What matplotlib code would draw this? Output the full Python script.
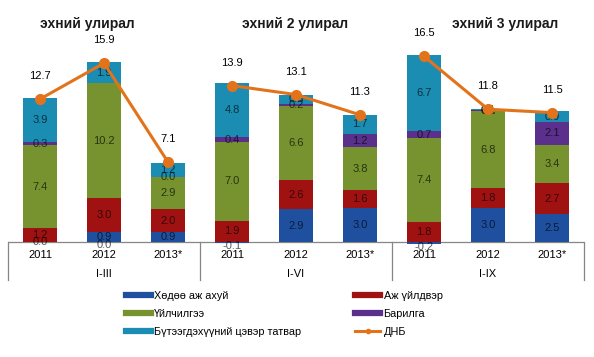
# -*- coding: utf-8 -*-
import matplotlib
matplotlib.use("Agg")
from matplotlib import pyplot as plt
from matplotlib.lines import Line2D
import matplotlib.transforms as mtransforms
import numpy as np

plt.rcParams['font.family'] = ['Liberation Sans', 'DejaVu Sans']

##############################################################################
# Donnees
years = ['2011', '2012', '2013*'] * 3
periods = ['I-III', 'I-VI', 'I-IX']
titles = ['эхний улирал', 'эхний 2 улирал', 'эхний 3 улирал']

agri = [0.0, 0.9, 0.9, -0.1, 2.9, 3.0, -0.2, 3.0, 2.5]
indus = [1.2, 3.0, 2.0, 1.9, 2.6, 1.6, 1.8, 1.8, 2.7]
servi = [7.4, 10.2, 2.9, 7.0, 6.6, 3.8, 7.4, 6.8, 3.4]
constr = [0.3, -0.04, 0.0, 0.4, 0.2, 1.2, 0.7, 0.1, 2.1]
taxes = [3.9, 1.9, 1.2, 4.8, 0.8, 1.7, 6.7, 0.1, 0.9]
gdp = [12.7, 15.9, 7.1, 13.9, 13.1, 11.3, 16.5, 11.8, 11.5]

series = [
    ('Хөдөө аж ахуй', agri, '#1f50a0'),
    ('Аж үйлдвэр', indus, '#a01212'),
    ('Үйлчилгээ', servi, '#77932f'),
    ('Барилга', constr, '#5b2f8c'),
    ('Бүтээгдэхүүний цэвэр татвар', taxes, '#1b8db3'),
]
col_gdp = '#e2731b'

##############################################################################
# Graphique
W, H = 594, 357
fig = plt.figure(figsize=(W / 100, H / 100), dpi=100)
ax = fig.add_axes([8 / W, 1 - 247.6 / H, 576 / W, 247.5 / H])

x = np.arange(len(years))
pos_base = np.zeros(len(x))
neg_base = np.zeros(len(x))
for nom, vals, couleur in series:
    vals = np.array(vals)
    base = np.where(vals >= 0, pos_base, neg_base)
    ax.bar(x, vals, 0.52, bottom=base, color=couleur, linewidth=0, zorder=2)
    for xi, b, v in zip(x, base, vals):
        # les valeurs negatives sont etiquetees sous l'axe
        yl = b + v / 2 if v >= 0 else b + v - 0.25
        ax.text(xi, yl, '%.1f' % (round(v, 1) + 0.0), ha='center', va='center',
                fontsize=8, color='black', alpha=0.65, zorder=3)
    pos_base = np.where(vals >= 0, pos_base + vals, pos_base)
    neg_base = np.where(vals < 0, neg_base + vals, neg_base)

# ДНБ, une ligne par periode
for g in range(3):
    xs = x[3 * g:3 * g + 3]
    ys = gdp[3 * g:3 * g + 3]
    ax.plot(xs, ys, color=col_gdp, lw=2.2, marker='o', ms=7, zorder=4)
    for xi, yi in zip(xs, ys):
        ax.annotate('%.1f' % yi, (xi, yi), xytext=(0, 13), textcoords='offset points',
                    ha='center', va='bottom', fontsize=8, color='black')

ax.set_xlim(-0.5, len(x) - 0.5)
ax.set_ylim(-0.5, 21.5)
ax.axis('off')
ax.axhline(0, color='#868686', lw=0.9, zorder=1)

# axe des categories a deux niveaux
tr = mtransforms.blended_transform_factory(ax.transData, fig.transFigure)
y_top = 1 - 242 / H
y_bot = 1 - 280 / H
for xb in [-0.5, 2.5, 5.5, 8.5]:
    fig.add_artist(Line2D([xb, xb], [y_top, y_bot], transform=tr, color='#868686', lw=0.9))
for xi, an in zip(x, years):
    fig.text(xi, 1 - 255 / H, an, transform=tr, ha='center', va='center', fontsize=8)
for g, per in enumerate(periods):
    fig.text(3 * g + 1, 1 - 274 / H, per, transform=tr, ha='center', va='center', fontsize=8)

for xt, titre in zip([87, 295, 505], titles):
    fig.text(xt / W, 1 - 24 / H, titre, ha='center', va='center', fontsize=10,
             fontweight='bold', color='#1a1a1a')

# legende
poignees = [Line2D([], [], color=c, lw=4.5) for _, _, c in series]
poignees.append(Line2D([], [], color=col_gdp, lw=2.2, marker='o', ms=3))
noms = [s[0] for s in series] + ['ДНБ']
ordre = [0, 2, 4, 1, 3, 5]
fig.legend([poignees[i] for i in ordre], [noms[i] for i in ordre], ncol=2,
           loc='upper left', bbox_to_anchor=(126 / W, 1 - 291 / H), frameon=False,
           fontsize=7.8, handlelength=2.3, handletextpad=0.3, columnspacing=5.0,
           labelspacing=0.72, borderpad=0, borderaxespad=0)

fig.savefig('out.png', dpi=100)
